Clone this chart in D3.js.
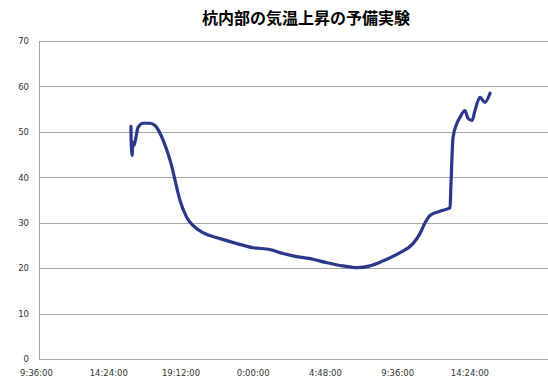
<!DOCTYPE html>
<html>
<head>
<meta charset="utf-8">
<script src="https://cdn.jsdelivr.net/npm/d3@7"></script>
<style>
  body { margin: 0; background: #fff; }
  svg { display: block; }
</style>
</head>
<body>
<div id="chart"></div>
<script>
// chart data (hours counted from midnight of day 1)
var title = "杭内部の気温上昇の予備実験";
var hours = [15.91, 15.92, 15.95, 15.98, 16.04, 16.11, 16.24, 16.38, 16.71, 17.17, 17.51, 17.84,
             18.30, 18.64, 18.84, 19.17, 19.63, 20.03, 20.70, 21.83, 22.96, 24.02, 25.15, 25.61,
             26.68, 27.81, 28.94, 30.00, 30.93, 31.79, 32.66, 33.79, 34.65, 35.11, 35.45, 35.78,
             36.44, 36.98, 37.11, 37.17, 37.31, 37.57, 37.77, 38.10, 38.30, 38.57, 38.77, 39.10,
             39.43, 39.77];
var temps = [51.2, 48.1, 45.9, 44.8, 47.7, 47.0, 48.8, 51.0, 51.9, 51.9, 51.4, 49.7,
             45.9, 42.2, 39.3, 34.9, 31.1, 29.4, 27.8, 26.5, 25.4, 24.5, 24.1, 23.6,
             22.7, 22.1, 21.2, 20.5, 20.1, 20.5, 21.6, 23.4, 25.4, 27.6, 30.0, 31.6,
             32.5, 33.1, 33.3, 38.2, 48.8, 51.9, 53.2, 54.7, 53.0, 52.5, 54.7, 57.6,
             56.5, 58.5];
var xTicks = [9.6, 14.4, 19.2, 24, 28.8, 33.6, 38.4];
var xTickLabels = ["9:36:00", "14:24:00", "19:12:00", "0:00:00", "4:48:00", "9:36:00", "14:24:00"];
var yTicks = [0, 10, 20, 30, 40, 50, 60, 70];

var width = 548, height = 378;
var plotLeft = 39, plotRight = 548, plotTop = 41, plotBottom = 359;

var svg = d3.select("#chart").append("svg")
    .attr("width", width)
    .attr("height", height);

var x = d3.scaleLinear().domain([9.6, 9.6 + (548 - 36) / 15.05]).range([36, 548]);
var y = d3.scaleLinear().domain([0, 70]).range([plotBottom, plotTop]);

// title
svg.append("text")
    .attr("x", 306)
    .attr("y", 24)
    .attr("text-anchor", "middle")
    .style("font-family", "'Noto Sans CJK JP', sans-serif")
    .style("font-weight", "bold")
    .style("font-size", "16px")
    .attr("fill", "#000")
    .text(title);

// horizontal gridlines
svg.append("g").selectAll("line")
    .data(yTicks)
    .enter()
    .append("line")
    .attr("x1", plotLeft)
    .attr("x2", plotRight)
    .attr("y1", d => Math.round(y(d)) + 0.5)
    .attr("y2", d => Math.round(y(d)) + 0.5)
    .attr("stroke", "#a6a6a6")
    .attr("stroke-width", 1);

// y axis line
svg.append("line")
    .attr("x1", plotLeft + 0.5).attr("x2", plotLeft + 0.5)
    .attr("y1", plotTop).attr("y2", plotBottom + 0.5)
    .attr("stroke", "#a6a6a6");

// y labels
var yAxis = d3.axisLeft(y).tickValues(yTicks).tickSize(0).tickPadding(10);
var gy = svg.append("g")
    .attr("transform", "translate(" + plotLeft + ",0)")
    .call(yAxis);
gy.select(".domain").remove();
gy.selectAll("text")
    .style("font-family", "'DejaVu Sans', sans-serif")
    .style("font-size", "8.5px")
    .attr("fill", "#333");

// x labels
var xAxis = d3.axisBottom(x).tickValues(xTicks).tickSize(0).tickPadding(11)
    .tickFormat((d, i) => xTickLabels[i]);
var gx = svg.append("g")
    .attr("transform", "translate(0," + plotBottom + ")")
    .call(xAxis);
gx.select(".domain").remove();
gx.selectAll("text")
    .style("font-family", "'DejaVu Sans', sans-serif")
    .style("font-size", "8.5px")
    .attr("fill", "#333");

// series
var line = d3.line()
    .x((d, i) => x(hours[i]))
    .y(d => y(d))
    .curve(d3.curveMonotoneX);

svg.append("path")
    .datum(temps)
    .attr("d", line)
    .attr("fill", "none")
    .attr("stroke", "#2b3788")
    .attr("stroke-width", 3.2)
    .attr("stroke-linejoin", "round")
    .attr("stroke-linecap", "round");
</script>
</body>
</html>
